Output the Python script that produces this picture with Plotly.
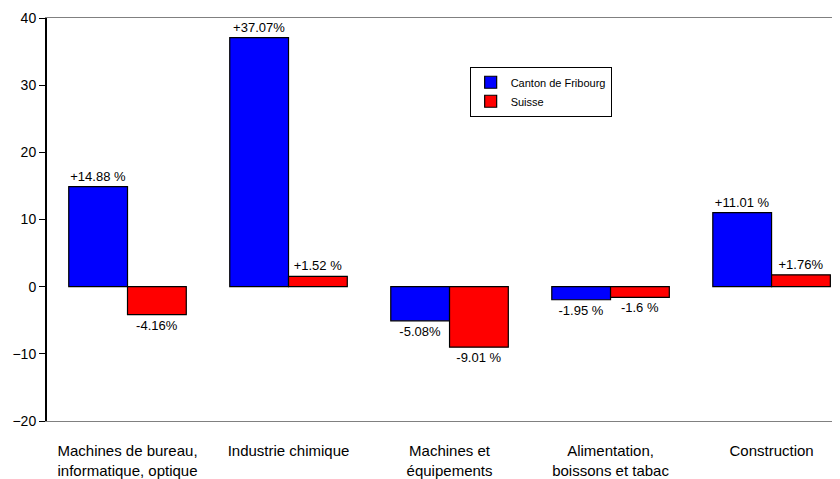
import plotly.graph_objects as go

categories = [
    "Machines de bureau,<br>informatique, optique",
    "Industrie chimique",
    "Machines et<br>équipements",
    "Alimentation,<br>boissons et tabac",
    "Construction",
]
fribourg = [14.88, 37.07, -5.08, -1.95, 11.01]
suisse = [-4.16, 1.52, -9.01, -1.6, 1.76]
fribourg_labels = ["+14.88 %", "+37.07%", "-5.08%", "-1.95 %", "+11.01 %"]
suisse_labels = ["-4.16%", "+1.52 %", "-9.01 %", "-1.6 %", "+1.76%"]

font_main = "Liberation Sans, Arial, sans-serif"

fig = go.Figure()

fig.add_trace(go.Bar(
    x=categories, y=fribourg,
    name="Canton de Fribourg",
    marker=dict(color="#0000FF", line=dict(color="black", width=1.2)),
    text=fribourg_labels, textposition="outside", cliponaxis=False,
    textfont=dict(size=13, color="black"),
))

fig.add_trace(go.Bar(
    x=categories, y=suisse,
    name="Suisse",
    marker=dict(color="#FF0000", line=dict(color="black", width=1.2)),
    text=suisse_labels, textposition="outside", cliponaxis=False,
    textfont=dict(size=13, color="black"),
))

# la page ajoute une marge de 8 px autour du graphique
fig.update_layout(
    width=832, height=471,
    margin=dict(l=39, r=0, t=10, b=53),
    paper_bgcolor="white", plot_bgcolor="white",
    font=dict(family=font_main, size=13, color="black"),
    barmode="group", bargap=0.27, bargroupgap=0,
    showlegend=True,
    legend=dict(
        x=0.533, y=0.879, xanchor="left", yanchor="top",
        bordercolor="black", borderwidth=1, bgcolor="white",
        font=dict(size=11), tracegroupgap=0, itemwidth=30,
    ),
    xaxis=dict(
        range=[-0.5, 4.425], showline=True, linecolor="#808080", linewidth=1,
        mirror=True, showgrid=False, ticks="", tickfont=dict(size=15),
        ticklabelstandoff=16, fixedrange=True,
    ),
    yaxis=dict(
        range=[-20, 40], dtick=10, showline=True, linecolor="black", linewidth=2,
        showgrid=False, zeroline=False, ticks="outside", ticklen=6,
        tickcolor="black", tickfont=dict(size=14),
    ),
)

fig.write_html("out.html")
